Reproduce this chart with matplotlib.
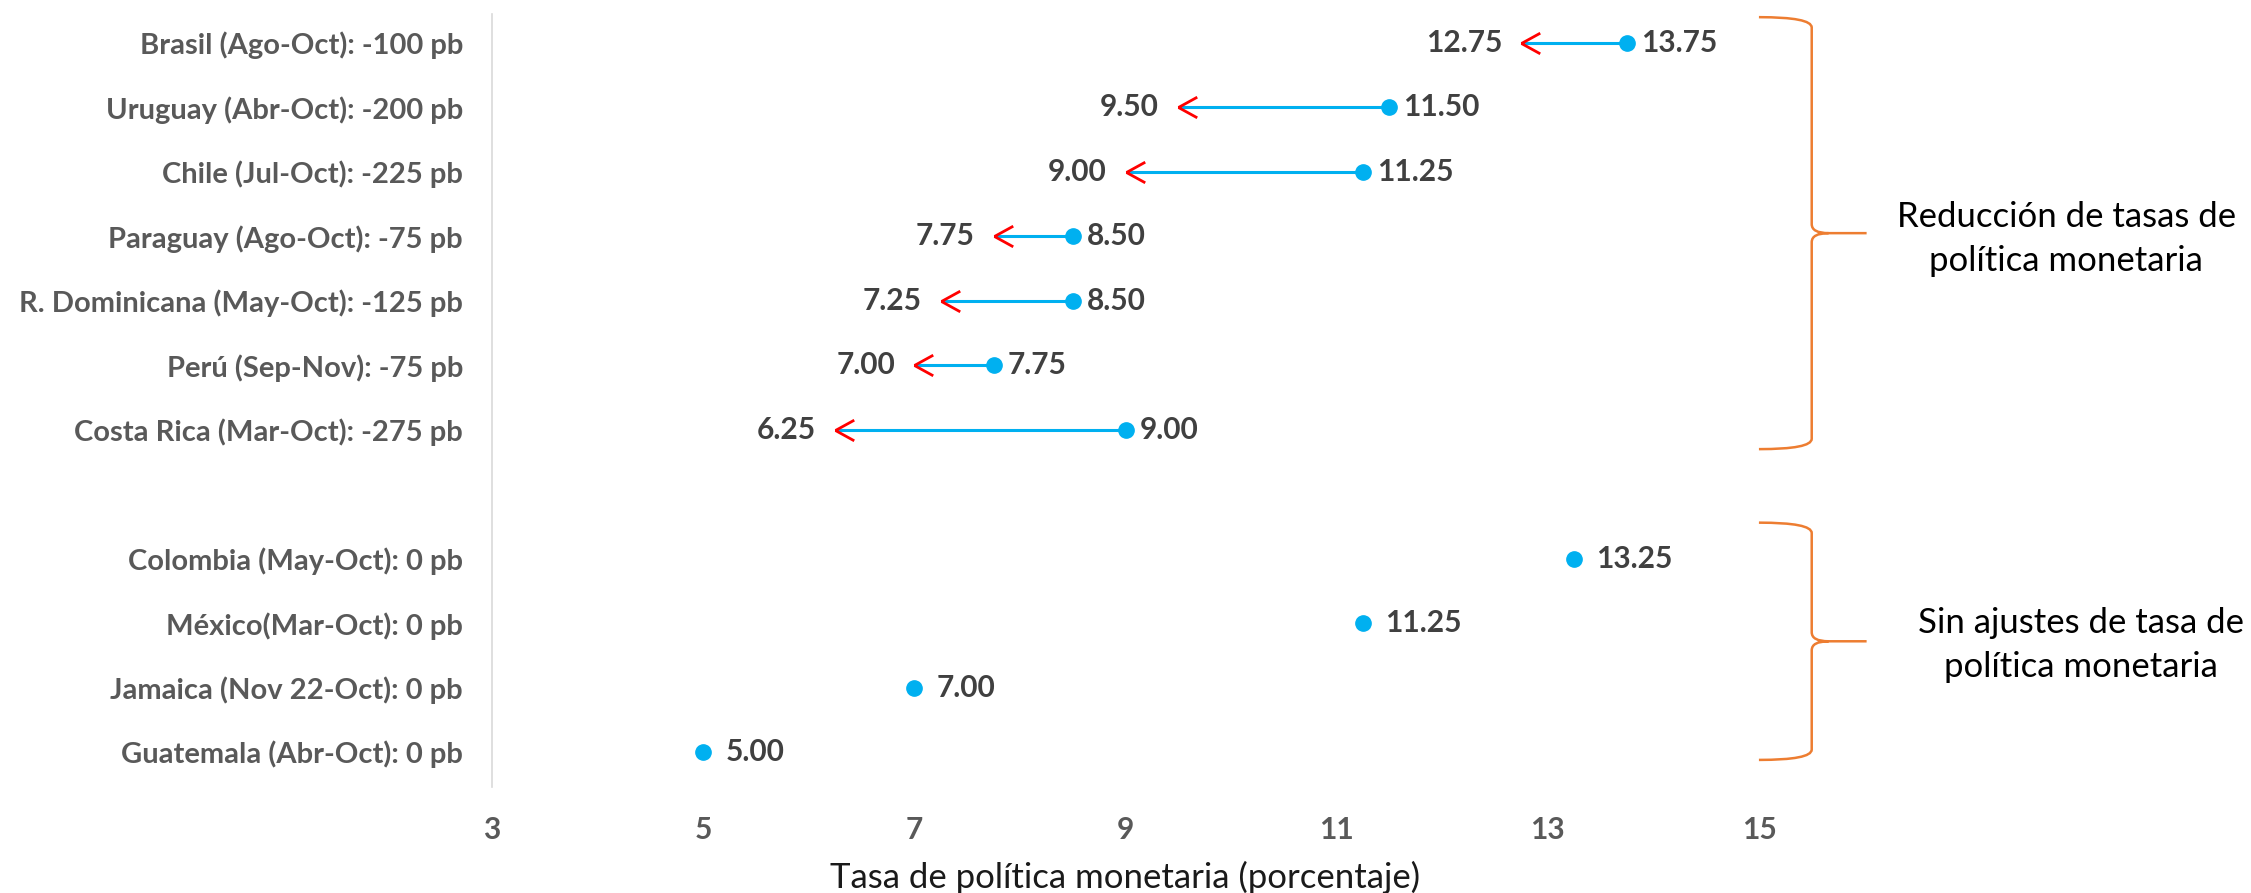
import numpy as np
import matplotlib
matplotlib.use('agg')
import matplotlib.pyplot as plt
from matplotlib.path import Path
from matplotlib.patches import PathPatch
from matplotlib.markers import MarkerStyle

plt.rcParams['font.family'] = ['Lato', 'DejaVu Sans']

# países que redujeron su tasa: tasa inicial y tasa final
paises_baja = ['Brasil (Ago-Oct): -100 pb', 'Uruguay (Abr-Oct): -200 pb',
               'Chile (Jul-Oct): -225 pb', 'Paraguay (Ago-Oct): -75 pb',
               'R. Dominicana (May-Oct): -125 pb', 'Perú (Sep-Nov): -75 pb',
               'Costa Rica (Mar-Oct): -275 pb']
tasa_inicial = [13.75, 11.50, 11.25, 8.50, 8.50, 7.75, 9.00]
tasa_final = [12.75, 9.50, 9.00, 7.75, 7.25, 7.00, 6.25]

# países sin ajuste
paises_sin = ['Colombia (May-Oct): 0 pb', 'México(Mar-Oct): 0 pb',
              'Jamaica (Nov 22-Oct): 0 pb', 'Guatemala (Abr-Oct): 0 pb']
tasa_sin = [13.25, 11.25, 7.00, 5.00]

xticks = [3, 5, 7, 9, 11, 13, 15]

azul = '#00B0F0'
rojo = '#FF0000'
naranja = '#ED7D31'
gris_val = '#404040'
gris_cat = '#595959'

y_baja = np.arange(len(paises_baja))
y_sin = np.arange(len(paises_sin)) + len(paises_baja) + 1

fig = plt.figure(figsize=(22.51, 8.93), dpi=100)
ax = fig.add_axes([0.2186, 0.1187, 0.5628, 0.8657])

# flecha abierta tipo "<"
chevron = MarkerStyle(Path([(0, 0), (1, 0.55), (0, 0), (1, -0.55)],
                           [Path.MOVETO, Path.LINETO, Path.MOVETO, Path.LINETO]))

ax.hlines(y_baja, tasa_final, tasa_inicial, color=azul, lw=2.2, zorder=2)
ax.plot(tasa_inicial, y_baja, 'o', color=azul, ms=11, zorder=3)
ax.plot(tasa_final, y_baja, linestyle='none', marker=chevron, ms=27,
        markeredgecolor=rojo, markerfacecolor='none', mew=2, zorder=3)
ax.plot(tasa_sin, y_sin, 'o', color=azul, ms=11, zorder=3)

for y, ini, fin in zip(y_baja, tasa_inicial, tasa_final):
    ax.annotate(f'{ini:.2f}', (ini, y), xytext=(10, 0), textcoords='offset points',
                ha='left', va='center', fontsize=21.5, fontweight='bold', color=gris_val)
    ax.annotate(f'{fin:.2f}', (fin, y), xytext=(-14, 0), textcoords='offset points',
                ha='right', va='center', fontsize=21.5, fontweight='bold', color=gris_val)
for y, v in zip(y_sin, tasa_sin):
    ax.annotate(f'{v:.2f}', (v, y), xytext=(16, 0), textcoords='offset points',
                ha='left', va='center', fontsize=21.5, fontweight='bold', color=gris_val)

ax.set_xlim(3, 15)
ax.set_ylim(11.54, -0.45)
ax.set_xticks(xticks)
ax.set_xticklabels([str(t) for t in xticks], fontsize=21.5, fontweight='bold', color=gris_cat)
ax.set_yticks(list(y_baja) + list(y_sin))
ax.set_yticklabels(paises_baja + paises_sin, fontsize=21, fontweight='bold', color=gris_cat)
ax.tick_params(length=0)
ax.tick_params(axis='x', pad=21)
ax.tick_params(axis='y', pad=21)
for s in ['top', 'right', 'bottom']:
    ax.spines[s].set_visible(False)
ax.spines['left'].set_color('#D9D9D9')
ax.spines['left'].set_linewidth(1.2)
ax.set_xlabel('Tasa de política monetaria (porcentaje)', fontsize=25, color='#1a1a1a',
              labelpad=12)


# llaves a la derecha de cada grupo
def llave(ax, top, bot, x0=15.0, x1=15.5, x2=16.02):
    mid = (top + bot) / 2
    verts = [(x0, top), (x1, top), (x1, top + 0.16),
             (x1, mid - 0.14), (x1, mid), (x1 + 0.16, mid),
             (x2, mid),
             (x1 + 0.16, mid), (x1, mid), (x1, mid + 0.14),
             (x1, bot - 0.16), (x1, bot), (x0, bot)]
    codes = [Path.MOVETO, Path.CURVE3, Path.CURVE3,
             Path.LINETO, Path.CURVE3, Path.CURVE3,
             Path.LINETO,
             Path.MOVETO, Path.CURVE3, Path.CURVE3,
             Path.LINETO, Path.CURVE3, Path.CURVE3]
    ax.add_patch(PathPatch(Path(verts, codes), fc='none', ec=naranja, lw=1.8,
                           clip_on=False))


llave(ax, -0.40, 6.30)
llave(ax, 7.44, 11.12)

fig.text(0.918, 0.7324, 'Reducción de tasas de\npolítica monetaria', ha='center', va='center',
         fontsize=25, color='black', linespacing=1.45)
fig.text(0.9246, 0.2775, 'Sin ajustes de tasa de\npolítica monetaria', ha='center', va='center',
         fontsize=25, color='black', linespacing=1.45)

fig.savefig('out.png', dpi=100)
